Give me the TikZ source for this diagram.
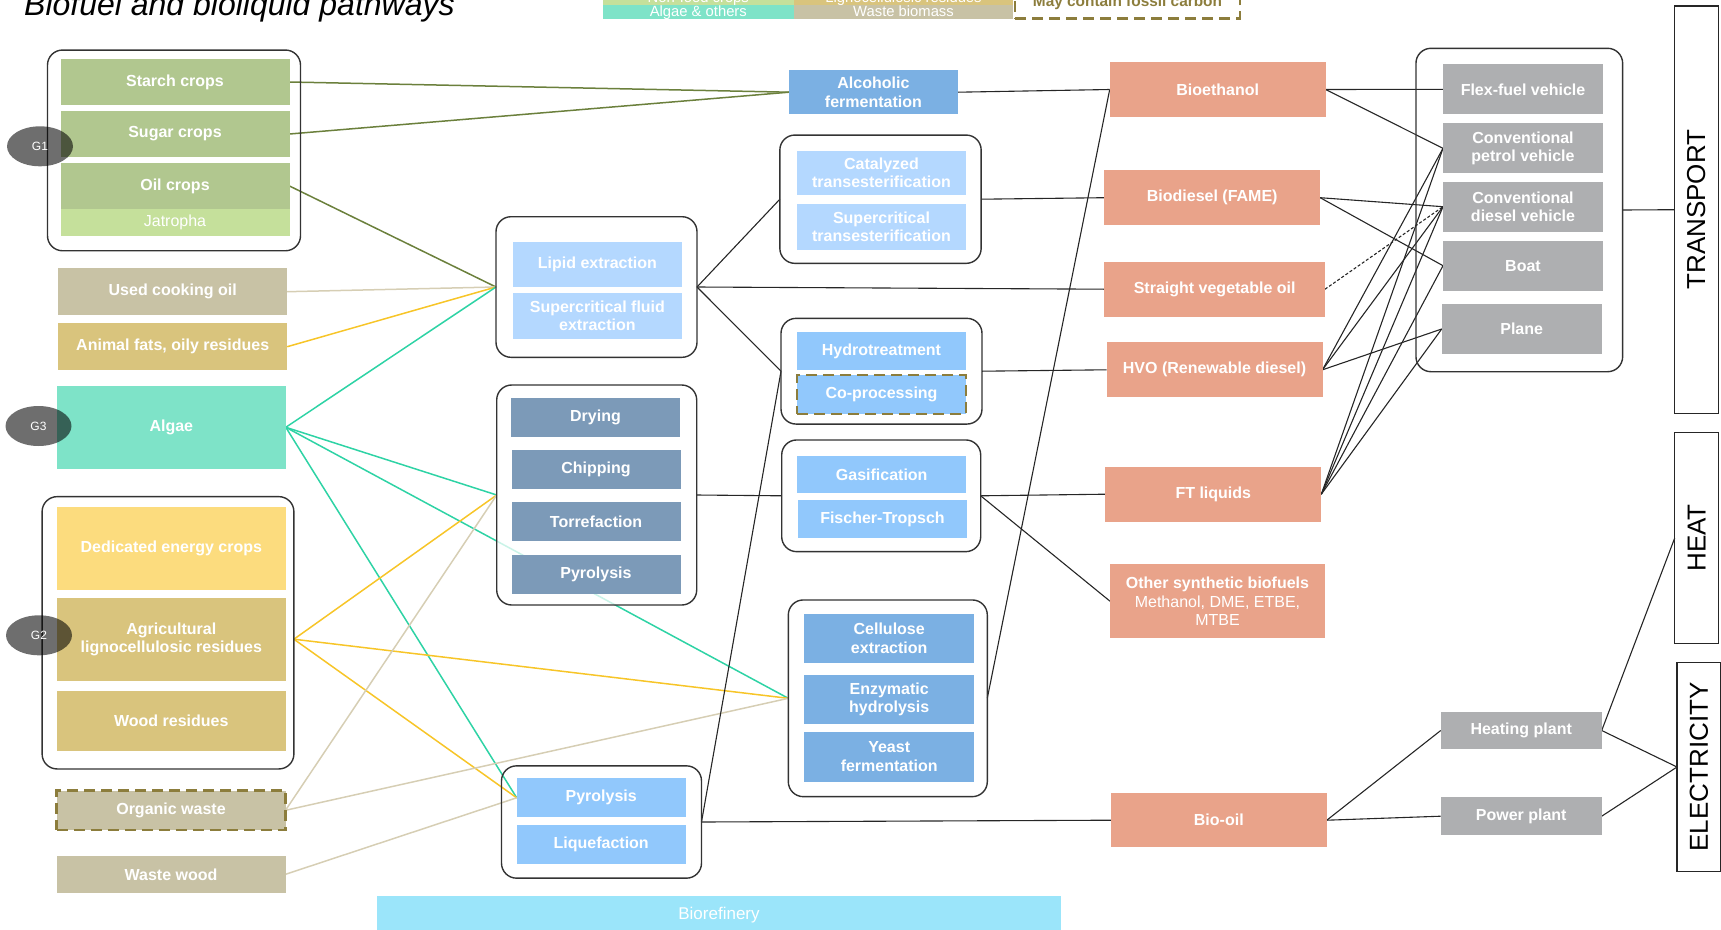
\documentclass[tikz,border=0pt]{standalone}
\usepackage{fontspec}
\setmainfont{Liberation Sans}
\usetikzlibrary{shapes.geometric}

\definecolor{sage}{RGB}{177,199,143}
\definecolor{jatropha}{RGB}{197,224,155}
\definecolor{waste}{RGB}{200,194,165}
\definecolor{residue}{RGB}{217,196,125}
\definecolor{algaec}{RGB}{126,227,200}
\definecolor{energy}{RGB}{252,220,126}
\definecolor{paleblue}{RGB}{180,216,255}
\definecolor{skyblue}{RGB}{145,200,252}
\definecolor{midblue}{RGB}{123,176,227}
\definecolor{steel}{RGB}{124,154,184}
\definecolor{salmon}{RGB}{233,163,138}
\definecolor{usegrey}{RGB}{174,175,177}
\definecolor{refinery}{RGB}{155,229,250}
\definecolor{fossilc}{RGB}{140,125,60}
\definecolor{oilline}{RGB}{107,128,60}
\definecolor{algline}{RGB}{46,211,165}
\definecolor{yelline}{RGB}{247,197,40}
\definecolor{wasteline}{RGB}{214,206,180}

\pgfdeclarelayer{links}
\pgfsetlayers{links,main}

\begin{document}
\begin{tikzpicture}[
    x=1pt, y=-1pt,
    box/.style={inner sep=0pt, outer sep=0pt, text=white, align=center,
        font=\fontsize{16}{18.5}\selectfont\bfseries},
    feed/.style={box, minimum width=229pt, minimum height=46pt},
    proc/.style={box, minimum width=169pt, minimum height=39pt},
    fuel/.style={box, fill=salmon, minimum width=216pt, minimum height=55pt},
    enduse/.style={box, fill=usegrey, minimum width=160pt, minimum height=50pt},
    group/.style={draw=black!80, line width=1.4pt, rounded corners=15pt, inner sep=0pt, outer sep=0pt},
    sector/.style={draw=black!85, line width=1.3pt, inner sep=0pt, outer sep=0pt, minimum width=44pt,
        font=\fontsize{26}{28}\selectfont},
    gen/.style={ellipse, fill=black, fill opacity=0.57, text opacity=1, text=white, inner sep=0pt,
        minimum width=66pt, minimum height=40pt, font=\fontsize{12}{14}\selectfont},
    legend/.style={inner sep=0pt, text=white, minimum height=13.4pt, text height=10pt, text depth=1.5pt,
        font=\fontsize{14.8}{16}\selectfont},
    fossil/.style={draw=fossilc, line width=2.5pt, dash pattern=on 11pt off 6pt},
    feedlink/.style={line width=1.5pt, draw=#1},
    link/.style={line width=1.1pt, draw=black!85}
]
\useasboundingbox (0,0) rectangle (1721,929);
\clip (0,0) rectangle (1721,929);

% Title and legend
\node[anchor=base west, inner sep=0pt, font=\fontsize{32}{36}\selectfont\itshape] (title) at (24,15) {Biofuel and bioliquid pathways};
\node[legend, fill=jatropha, minimum width=191.4pt] (nonfood) at (698.3,-1.7) {Non-food crops};
\node[legend, fill=residue, minimum width=219pt] (ligno) at (903.5,-1.7) {Lignocellulosic residues};
\node[legend, fill=algaec, minimum width=191.4pt] (algaeleg) at (698.3,11.9) {Algae \& others};
\node[legend, fill=waste, minimum width=219pt] (wasteleg) at (903.5,11.9) {Waste biomass};
\node[fossil, text=fossilc, inner sep=0pt, minimum width=225pt, minimum height=38.6pt, text height=18pt, text depth=3pt,
    font=\fontsize{15.4}{17}\selectfont\bfseries] (fossil) at (1127.5,-1) {May contain fossil carbon};

% Feedstocks
\node[group, minimum width=253pt, minimum height=200.7pt] (g1) at (174,150.4) {};
\node[feed, fill=sage] (starch) at (175,82) {Starch crops};
\node[feed, fill=sage] (sugar) at (175,134) {Sugar crops};
\node[feed, fill=sage] (oil) at (175,186) {Oil crops};
\node[feed, fill=jatropha, minimum height=27pt, font=\fontsize{16}{18.5}\selectfont] (jatropha) at (175,222.5) {Jatropha};

\node[feed, fill=waste, minimum height=46.7pt] (usedoil) at (172.7,291.7) {Used cooking oil};
\node[feed, fill=residue, minimum height=46.7pt] (animalfats) at (172.7,346.7) {Animal fats, oily residues};
\node[feed, fill=algaec, minimum height=83.3pt] (algae) at (171.3,427.3) {Algae};

\node[group, minimum width=251.8pt, minimum height=272.3pt] (g2) at (168,632.8) {};
\node[feed, fill=energy, minimum height=82.7pt] (energycrops) at (171.3,548.7) {Dedicated energy crops};
\node[feed, fill=residue, minimum height=83pt] (agri) at (171.3,639.2) {Agricultural\\lignocellulosic residues};
\node[feed, fill=residue, minimum height=60pt] (woodres) at (171.3,720.7) {Wood residues};

\node[feed, fill=waste, fossil, minimum height=39.3pt] (organic) at (171,810.3) {Organic waste};
\node[feed, fill=waste, minimum height=36.7pt] (wastewood) at (171,874.3) {Waste wood};

% Pre-treatment and extraction
\node[group, minimum width=201pt, minimum height=140.6pt] (lipid) at (596.5,287) {};
\node[proc, fill=paleblue, minimum height=45pt] (lipidext) at (597.4,264) {Lipid extraction};
\node[proc, fill=paleblue, minimum height=46pt] (scfluid) at (597.4,316) {Supercritical fluid\\extraction};

\node[group, fill=white, fill opacity=0.75, minimum width=200pt, minimum height=220pt] (drygrp) at (596.7,495) {};
\node[proc, fill=steel] (drying) at (595.5,417.7) {Drying};
\node[proc, fill=steel] (chipping) at (596,469.7) {Chipping};
\node[proc, fill=steel] (torrefaction) at (596,521.7) {Torrefaction};
\node[proc, fill=steel] (pyrolysis) at (596,574.3) {Pyrolysis};

\node[group, minimum width=200pt, minimum height=112.3pt] (pyrogrp) at (601.5,822) {};
\node[proc, fill=skyblue] (pyrolysisb) at (601.2,797.8) {Pyrolysis};
\node[proc, fill=skyblue] (liquefaction) at (601.2,844.5) {Liquefaction};

% Conversion routes
\node[proc, fill=midblue, minimum height=44.3pt] (alcferm) at (873.4,92.2) {Alcoholic\\fermentation};

\node[group, minimum width=201.3pt, minimum height=128.3pt] (transgrp) at (880.5,199.2) {};
\node[proc, fill=paleblue, minimum height=44.3pt] (catalyzed) at (881.5,172.8) {Catalyzed\\transesterification};
\node[proc, fill=paleblue, minimum height=46pt] (supertrans) at (881.5,227) {Supercritical\\transesterification};

\node[group, minimum width=201pt, minimum height=105.7pt] (hydrogrp) at (881.5,371.2) {};
\node[proc, fill=skyblue, minimum height=37.7pt] (hydrotreat) at (881.5,351.2) {Hydrotreatment};
\node[proc, fill=skyblue, fossil, minimum height=39pt] (coproc) at (881.5,394.5) {Co-processing};

\node[group, minimum width=199pt, minimum height=111.7pt] (gasgrp) at (881.2,495.8) {};
\node[proc, fill=skyblue, minimum height=37.3pt] (gasif) at (881.7,474.7) {Gasification};
\node[proc, fill=skyblue, minimum height=38.3pt] (fischer) at (882.5,519.2) {Fischer-Tropsch};

\node[group, minimum width=199pt, minimum height=196.7pt] (enzgrp) at (887.8,698.3) {};
\node[proc, fill=midblue, minimum width=170.3pt, minimum height=48.4pt] (cellulose) at (889.2,638.5) {Cellulose\\extraction};
\node[proc, fill=midblue, minimum width=170.3pt, minimum height=49pt] (enzymatic) at (889.2,699.5) {Enzymatic\\hydrolysis};
\node[proc, fill=midblue, minimum width=170.3pt, minimum height=50pt] (yeast) at (889.2,756.7) {Yeast\\fermentation};

% Biofuels and bioliquids
\node[fuel] (bioethanol) at (1217.7,89.5) {Bioethanol};
\node[fuel] (biodiesel) at (1212.2,197.7) {Biodiesel (FAME)};
\node[fuel, minimum width=220.6pt] (svo) at (1214.7,289.2) {Straight vegetable oil};
\node[fuel] (hvo) at (1214.5,369.8) {HVO (Renewable diesel)};
\node[fuel] (ftliq) at (1213.3,494.2) {FT liquids};
\node[fuel, minimum width=215pt, minimum height=74.3pt] (othersyn) at (1217.5,601.2)
    {Other synthetic biofuels\\{\mdseries Methanol, DME, ETBE,}\\{\mdseries MTBE}};
\node[fuel, minimum height=53.7pt] (biooil) at (1218.8,820.2) {Bio-oil};

% End uses
\node[group, minimum width=206.7pt, minimum height=323.4pt] (vehgrp) at (1519.3,210) {};
\node[enduse] (flexfuel) at (1523,89.3) {Flex-fuel vehicle};
\node[enduse] (petrol) at (1523,148.3) {Conventional\\petrol vehicle};
\node[enduse] (diesel) at (1523,206.7) {Conventional\\diesel vehicle};
\node[enduse] (boat) at (1523,265.7) {Boat};
\node[enduse] (plane) at (1521.7,329) {Plane};
\node[enduse, minimum width=161pt, minimum height=37.6pt] (heating) at (1521.2,730.5) {Heating plant};
\node[enduse, minimum width=161pt, minimum height=37.6pt] (power) at (1521.2,816.2) {Power plant};

\node[sector, minimum height=407.3pt] (transport) at (1696.2,209.7) {\rotatebox{90}{TRANSPORT}};
\node[sector, minimum height=210.6pt] (heat) at (1696.7,538) {\rotatebox{90}{HEAT}};
\node[sector, minimum height=209.4pt] (elec) at (1699,767) {\rotatebox{90}{ELECTRICITY}};

\node[box, fill=refinery, minimum width=683.3pt, minimum height=38.6pt, font=\fontsize{17}{19}\selectfont] (biorefinery) at (719,915) {Biorefinery};

% Generation tags
\node[gen] (g1tag) at (40,146.3) {G1};
\node[gen] (g3tag) at (38.5,426) {G3};
\node[gen] (g2tag) at (39,635.3) {G2};

\coordinate (agriout) at (agri.east -| g2.east);

\begin{pgfonlayer}{links}
% Feedstock links
\draw[feedlink=oilline] (starch.east) -- (alcferm.west);
\draw[feedlink=oilline] (sugar.east) -- (alcferm.west);
\draw[feedlink=oilline] (oil.east) -- (lipid.west);
\draw[feedlink=wasteline] (usedoil.east) -- (lipid.west);
\draw[feedlink=yelline] (animalfats.east) -- (lipid.west);
\draw[feedlink=algline] (algae.east) -- (lipid.west);
\draw[feedlink=algline] (algae.east) -- (drygrp.west);
\draw[feedlink=algline] (algae.east) -- (enzgrp.west);
\draw[feedlink=algline] (algae.east) -- (pyrolysisb.west);
\draw[feedlink=yelline] (agriout) -- (drygrp.west);
\draw[feedlink=yelline] (agriout) -- (enzgrp.west);
\draw[feedlink=yelline] (agriout) -- (pyrolysisb.west);
\draw[feedlink=wasteline] (organic.east) -- (drygrp.west);
\draw[feedlink=wasteline] (organic.east) -- (enzgrp.west);
\draw[feedlink=wasteline] (wastewood.east) -- (pyrolysisb.west);

% Conversion to fuels
\draw[link] (alcferm.east) -- (bioethanol.west);
\draw[link] (enzgrp.east) -- (bioethanol.west);
\draw[link] (lipid.east) -- (transgrp.west);
\draw[link] (lipid.east) -- (svo.west);
\draw[link] (lipid.east) -- (hydrogrp.west);
\draw[link] (transgrp.east) -- (biodiesel.west);
\draw[link] (hydrogrp.east) -- (hvo.west);
\draw[link] (pyrogrp.east) -- (hydrogrp.west);
\draw[link] (pyrogrp.east) -- (biooil.west);
\draw[link] (drygrp.east) -- (gasgrp.west);
\draw[link] (gasgrp.east) -- (ftliq.west);
\draw[link] (gasgrp.east) -- (othersyn.west);

% Fuels to end uses
\draw[link] (bioethanol.east) -- (flexfuel.west);
\draw[link] (bioethanol.east) -- (petrol.west);
\draw[link] (biodiesel.east) -- (diesel.west);
\draw[link] (biodiesel.east) -- (boat.west);
\draw[link, dash pattern=on 3pt off 2pt] (svo.east) -- (diesel.west);
\draw[link] (hvo.east) -- (petrol.west);
\draw[link] (hvo.east) -- (diesel.west);
\draw[link] (hvo.east) -- (plane.west);
\draw[link] (ftliq.east) -- (petrol.west);
\draw[link] (ftliq.east) -- (diesel.west);
\draw[link] (ftliq.east) -- (boat.west);
\draw[link] (ftliq.east) -- (plane.west);
\draw[link] (vehgrp.east) -- (transport.west);
\draw[link] (biooil.east) -- (heating.west);
\draw[link] (biooil.east) -- (power.west);
\draw[link] (heating.east) -- (heat.west);
\draw[link] (heating.east) -- (elec.west);
\draw[link] (power.east) -- (elec.west);
\end{pgfonlayer}

\end{tikzpicture}
\end{document}
